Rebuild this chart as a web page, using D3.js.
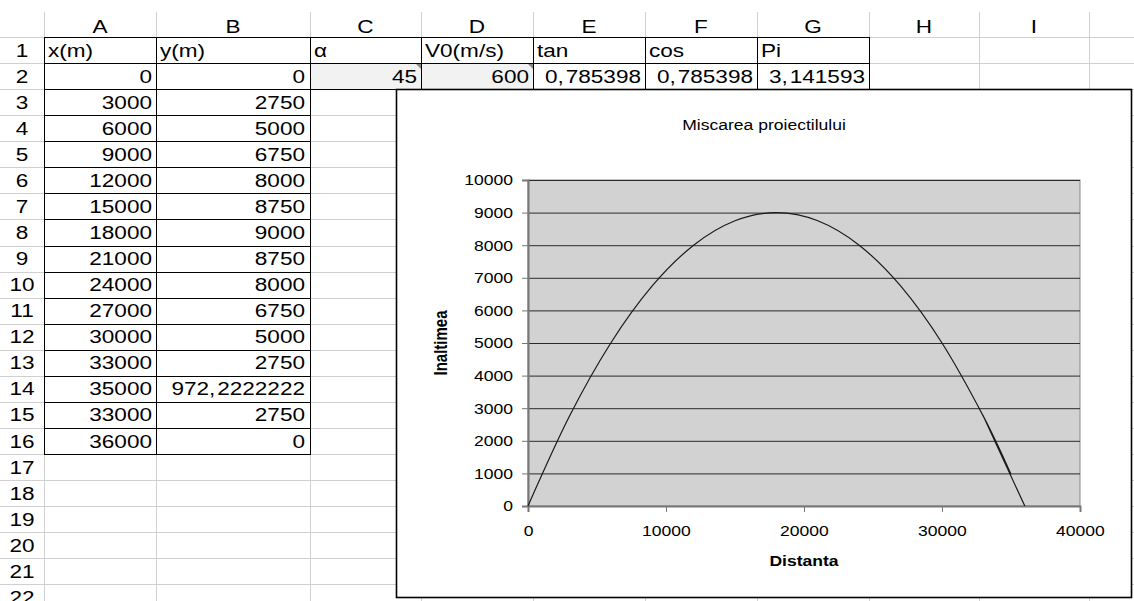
<!DOCTYPE html>
<html>
<head>
<meta charset="utf-8">
<script src="https://cdn.jsdelivr.net/npm/d3@7"></script>
<style>
  body { margin: 0; background: #fff; }
  text { font-family: "Liberation Sans", Arial, sans-serif; fill: #000; }
</style>
</head>
<body>
<script>
// date din foaia de calcul
const colLetters = ["A", "B", "C", "D", "E", "F", "G", "H", "I"]
const headerRow = ["x(m)", "y(m)", "α", "V0(m/s)", "tan", "cos", "Pi"]
const paramValues = [45, 600, 0.785398, 0.785398, 3.141593]
const xValues = [0, 3000, 6000, 9000, 12000, 15000, 18000, 21000, 24000, 27000, 30000, 33000, 35000, 33000, 36000]
const yValues = [0, 2750, 5000, 6750, 8000, 8750, 9000, 8750, 8000, 6750, 5000, 2750, 972.2222222, 2750, 0]
const xTicks = [0, 10000, 20000, 30000, 40000]
const yTicks = [0, 1000, 2000, 3000, 4000, 5000, 6000, 7000, 8000, 9000, 10000]
const chartTitle = "Miscarea proiectilului"
const xTitle = "Distanta"
const yTitle = "Inaltimea"

const W = 1134, H = 601
const sx = 1.17    // textul din grafic e putin lățit
const sxCell = 1.22 // textul din celule

const svg = d3.select("body").append("svg")
    .attr("width", W)
    .attr("height", H)

// geometria foii
const colEdges = [0, 44, 156, 310, 421, 533, 645, 757, 869, 979, 1089, 1134]
const headTop = 12, row1Top = 37, rowH = 26.07
const rowTop = r => row1Top + (r - 1) * rowH
const fmt = v => String(v).replace(".", ",")

function txt(x, y, s, anchor, size, weight, scaleX) {
    const t = svg.append("text")
        .attr("transform", `translate(${x},${y}) scale(${scaleX || sx},1)`)
        .attr("text-anchor", anchor || "start")
        .style("font-size", (size || 18) + "px")
        .style("font-weight", weight || "normal")
    // virgula zecimală are un mic spațiu după ea
    const parts = s.split(",")
    if (parts.length === 2) {
        t.append("tspan").text(parts[0] + ",")
        t.append("tspan").attr("dx", 1.5).text(parts[1])
    } else {
        t.text(s)
    }
    return t
}
const cell = (x, y, s, anchor) => txt(x, y, s, anchor, 18.5, "normal", sxCell)

// linii gri ale grilei
const grid = svg.append("g").attr("stroke", "#d0d0d0").attr("stroke-width", 1)
colEdges.slice(1, -1).forEach(x => {
    grid.append("line").attr("x1", x + 0.5).attr("x2", x + 0.5).attr("y1", headTop).attr("y2", H)
})
for (let r = 1; r <= 23; r++) {
    const y = Math.round(rowTop(r)) + 0.5
    grid.append("line").attr("x1", 0).attr("x2", W).attr("y1", y).attr("y2", y)
}

// antet coloane
colLetters.forEach((c, i) => {
    cell((colEdges[i + 1] + colEdges[i + 2]) / 2, 33, c, "middle")
})
// numere rânduri
for (let r = 1; r <= 22; r++) {
    cell(22, rowTop(r) + 19.5, String(r), "middle")
}

// celule C2, D2 cu fundal gri
;[2, 3].forEach(ci => {
    svg.append("rect")
        .attr("x", colEdges[ci + 1] + 1).attr("y", rowTop(2) + 1)
        .attr("width", colEdges[ci + 2] - colEdges[ci + 1] - 1).attr("height", rowH - 1)
        .attr("fill", "#f2f2f2")
    const xr = colEdges[ci + 2]
    const yt = rowTop(2) + 1
    svg.append("path")
        .attr("d", `M${xr - 5},${yt} L${xr},${yt} L${xr},${yt + 5} Z`)
        .attr("fill", "#888")
})

// chenare negre
const borders = svg.append("g").attr("fill", "none").attr("stroke", "#000").attr("stroke-width", 1)
function cellBox(ci, r) {
    const x0 = Math.round(colEdges[ci + 1]) + 0.5
    const x1 = Math.round(colEdges[ci + 2]) + 0.5
    const y0 = Math.round(rowTop(r)) + 0.5
    const y1 = Math.round(rowTop(r + 1)) + 0.5
    borders.append("rect").attr("x", x0).attr("y", y0).attr("width", x1 - x0).attr("height", y1 - y0)
}
for (let r = 1; r <= 16; r++) { cellBox(0, r); cellBox(1, r) }
for (let ci = 2; ci <= 6; ci++) { cellBox(ci, 1); cellBox(ci, 2) }

// textul celulelor
headerRow.forEach((h, i) => {
    cell(colEdges[i + 1] + 4, rowTop(1) + 19.5, h, "start")
})
paramValues.forEach((v, i) => {
    cell(colEdges[i + 4] - 4, rowTop(2) + 19.5, fmt(v), "end")
})
xValues.forEach((v, i) => {
    cell(colEdges[2] - 4, rowTop(i + 2) + 19.5, fmt(v), "end")
    cell(colEdges[3] - 5, rowTop(i + 2) + 19.5, fmt(yValues[i]), "end")
})

// ---------- graficul ----------
const box = { x: 396.5, y: 89.5, w: 735, h: 508 }
svg.append("rect")
    .attr("x", box.x).attr("y", box.y)
    .attr("width", box.w).attr("height", box.h)
    .attr("fill", "#fff").attr("stroke", "#000").attr("stroke-width", 1.6)

const plot = { left: 528, right: 1080, top: 180, bottom: 506 }
const x = d3.scaleLinear().domain([0, 40000]).range([plot.left, plot.right])
const y = d3.scaleLinear().domain([0, 10000]).range([plot.bottom, plot.top])

svg.append("rect")
    .attr("x", plot.left).attr("y", plot.top)
    .attr("width", plot.right - plot.left).attr("height", plot.bottom - plot.top)
    .attr("fill", "#d2d2d2").attr("stroke", "#8a8a8a")

// linii de grilă
svg.append("g")
    .attr("transform", `translate(${plot.left},0)`)
    .call(d3.axisLeft(y).tickValues(yTicks).tickSize(-(plot.right - plot.left)).tickFormat(""))
    .call(g => g.select(".domain").remove())
    .selectAll("line").attr("stroke", "#2a2a2a")

// axa y
const yAx = svg.append("g")
    .attr("transform", `translate(${plot.left},0)`)
    .call(d3.axisLeft(y).tickValues(yTicks).tickSize(6).tickFormat(d3.format("d")))
yAx.select(".domain").attr("stroke", "#777").attr("stroke-width", 2)
yAx.selectAll("line").attr("stroke", "#777")
yAx.selectAll("text")
    .attr("x", -15 / sx)
    .attr("transform", `scale(${sx},1)`)
    .style("font-size", "15px")
    .style("font-family", "Liberation Sans, Arial, sans-serif")

// axa x
const xAx = svg.append("g")
    .attr("transform", `translate(0,${plot.bottom})`)
    .call(d3.axisBottom(x).tickValues(xTicks).tickSize(6).tickPadding(13).tickFormat(d3.format("d")))
xAx.select(".domain").attr("stroke", "#777").attr("stroke-width", 2)
xAx.selectAll("line").attr("stroke", "#777")
xAx.selectAll("text")
    .attr("transform", `scale(${sx},1)`)
    .style("font-size", "15px")
    .style("font-family", "Liberation Sans, Arial, sans-serif")

// curba traiectoriei
const points = xValues.map((v, i) => [v, yValues[i]])
const line = d3.line()
    .x(d => x(d[0]))
    .y(d => y(d[1]))
    .curve(d3.curveCardinal.tension(0))
svg.append("path")
    .datum(points)
    .attr("d", line)
    .attr("fill", "none")
    .attr("stroke", "#1a1a1a")
    .attr("stroke-width", 1.2)

// titluri
txt(764, 130, chartTitle, "middle", 15)
txt((plot.left + plot.right) / 2, 566, xTitle, "middle", 15, "bold")
svg.append("text")
    .attr("transform", `translate(447,${(plot.top + plot.bottom) / 2}) rotate(-90) scale(1,1.17)`)
    .attr("text-anchor", "middle")
    .style("font-size", "15px")
    .style("font-weight", "bold")
    .text(yTitle)
</script>
</body>
</html>
